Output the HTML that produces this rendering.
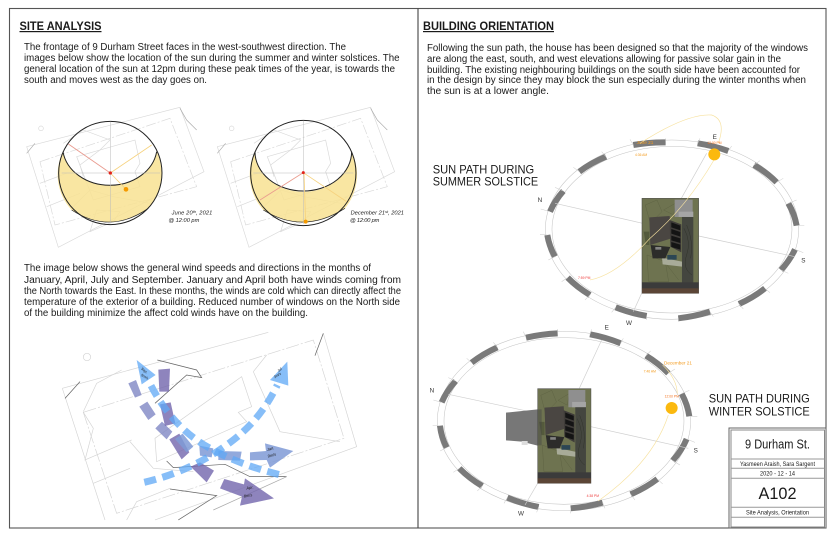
<!DOCTYPE html>
<html><head><meta charset="utf-8"><style>
html,body{margin:0;padding:0;background:#fff;width:836px;height:539px;overflow:hidden}
svg{display:block;filter:blur(.35px)}
text{font-family:"Liberation Sans",sans-serif;fill:#1a1a1a}
.b{font-size:9.9px}
</style></head><body>
<svg width="836" height="539" viewBox="0 0 836 539" xmlns="http://www.w3.org/2000/svg" xmlns:xlink="http://www.w3.org/1999/xlink">
<defs>
<g id="site" fill="none" stroke="#d9d9d9" stroke-width="2">
<path d="M80 140L540 22L612 215L175 442Z"/>
<path d="M120 185L510 55L590 260L165 375Z" stroke-dasharray="30 6 6 6"/>
<path d="M190 130L250 90L330 120L300 150L240 195L250 230M220 320L270 270L340 290L450 310M270 395L290 330L360 335L340 365Z"/>
<path d="M230 170L405 120L420 190L405 215L420 260L280 300Z"/>
<path d="M120 250L200 220M140 320L240 280"/>
<path d="M540 25L560 60L590 90" stroke="#aaa"/>
<path d="M80 160L105 130" stroke="#aaa"/>
<circle cx="123" cy="85" r="7"/>
</g>
<g id="ringT" fill="none">
<ellipse cx="0" cy="0" rx="380" ry="269" stroke="#c4c4c4" stroke-width="1.6"/>
<ellipse cx="0" cy="0" rx="360" ry="250" stroke="#c4c4c4" stroke-width="1.6"/>
</g>
<g id="house">
<rect x="0" y="0" width="170" height="285" fill="#6e7350" stroke="#444" stroke-width="1.5"/>
<path d="M10 20L45 5L60 40L25 75ZM65 35L100 15L95 50ZM15 170L70 190L80 250L20 250ZM75 200L110 245" fill="none" stroke="#5a5f40" stroke-width="1.2"/>
<rect x="98" y="4" width="54" height="52" fill="#8f8f8f"/>
<rect x="110" y="40" width="44" height="16" fill="#a5a5a5"/>
<rect x="120" y="56" width="34" height="200" fill="#44463f"/>
<path d="M126 90Q148 130 134 170T150 230M134 80Q156 130 146 180" fill="none" stroke="#2c2e26" stroke-width="1.2"/>
<path d="M5 100H22V140H12Z" fill="#545a3c"/>
<path d="M60 178L120 190V205L62 198Z" fill="#a8ab99"/>
<path d="M22 57L83 53L88 120L25 140Z" fill="#4a4642"/>
<path d="M83 65L118 78V162L85 145Z" fill="#3f3c39"/>
<path d="M88 72L115 82V96L88 87ZM88 92L115 101V115L88 106ZM88 112L115 120V134L88 126ZM88 131L115 139V154L88 146Z" fill="#141414"/>
<path d="M26 140L85 146L70 180L32 180Z" fill="#2c2c2a"/>
<rect x="40" y="146" width="18" height="8" fill="#aaa" fill-opacity=".7"/>
<rect x="76" y="170" width="28" height="14" fill="#2c4654"/>
<rect x="0" y="252" width="170" height="20" fill="#3b3b3b"/>
<rect x="0" y="270" width="170" height="15" fill="#5b4536"/>
</g>
</defs>

<rect width="836" height="539" fill="#fff"/>
<rect x="9.5" y="8.5" width="816.5" height="519.5" fill="none" stroke="#555" stroke-width="1.1"/>
<line x1="418" y1="8.5" x2="418" y2="528" stroke="#444" stroke-width="1.1"/>

<text x="19.5" y="30" font-size="12" font-weight="bold" text-decoration="underline" textLength="82" lengthAdjust="spacingAndGlyphs">SITE ANALYSIS</text>
<text x="423" y="30" font-size="12" font-weight="bold" text-decoration="underline" textLength="131" lengthAdjust="spacingAndGlyphs">BUILDING ORIENTATION</text>

<g class="b">
<text x="24" y="50" textLength="322" lengthAdjust="spacingAndGlyphs">The frontage of 9 Durham Street faces in the west-southwest direction. The</text>
<text x="24" y="61" textLength="375.5" lengthAdjust="spacingAndGlyphs">images below show the location of the sun during the summer and winter solstices. The</text>
<text x="24" y="72" textLength="371" lengthAdjust="spacingAndGlyphs">general location of the sun at 12pm during these peak times of the year, is towards the</text>
<text x="24" y="83" textLength="183" lengthAdjust="spacingAndGlyphs">south and moves west as the day goes on.</text>
<text x="24" y="271" textLength="347" lengthAdjust="spacingAndGlyphs">The image below shows the general wind speeds and directions in the months of</text>
<text x="24" y="283" textLength="377" lengthAdjust="spacingAndGlyphs">January, April, July and September. January and April both have winds coming from</text>
<text x="24" y="294" textLength="377" lengthAdjust="spacingAndGlyphs">the North towards the East. In these months, the winds are cold which can directly affect the</text>
<text x="24" y="305" textLength="376" lengthAdjust="spacingAndGlyphs">temperature of the exterior of a building. Reduced number of windows on the North side</text>
<text x="24" y="316" textLength="284" lengthAdjust="spacingAndGlyphs">of the building minimize the affect cold winds have on the building.</text>
<text x="427" y="51" textLength="381" lengthAdjust="spacingAndGlyphs">Following the sun path, the house has been designed so that the majority of the windows</text>
<text x="427" y="62" textLength="354" lengthAdjust="spacingAndGlyphs">are along the east, south, and west elevations allowing for passive solar gain in the</text>
<text x="427" y="73" textLength="373" lengthAdjust="spacingAndGlyphs">building. The existing neighbouring buildings on the south side have been accounted for</text>
<text x="427" y="83" textLength="379" lengthAdjust="spacingAndGlyphs">in the design by  since they may block the sun especially during the winter months when</text>
<text x="427" y="94" textLength="122" lengthAdjust="spacingAndGlyphs">the sun is at a lower angle.</text>
</g>

<!-- solstice spheres -->
<g transform="translate(0,100) scale(.3333)">
<use xlink:href="#site"/>
<path d="M189 155A142 118 0 0 0 470 155A155 155 0 0 1 445 325Q330 405 215 330A155 155 0 0 1 189 155Z" fill="#f8e292" fill-opacity=".85"/>
<circle cx="331" cy="219" r="155" fill="none" stroke="#222" stroke-width="3"/>
<path d="M189 155A142 118 0 0 0 470 155" fill="none" stroke="#222" stroke-width="3"/>
<path d="M215 330Q330 405 445 325" fill="none" stroke="#222" stroke-width="2"/>
<path d="M331 65V370M185 219H480" stroke="#bbb" stroke-width="1.5" fill="none"/>
<path d="M331 219L205 132" stroke="#e99a8e" stroke-width="2.5"/>
<path d="M331 219L455 135M331 219L378 268" stroke="#f6d27e" stroke-width="2.5"/>
<circle cx="331" cy="219" r="5" fill="#e2231a"/>
<circle cx="378" cy="268" r="7" fill="#f59a00"/>
<text x="515" y="343" font-size="17" style="font-style:italic" textLength="122">June 20ᵗʰ, 2021</text>
<text x="505" y="366" font-size="17" style="font-style:italic" textLength="93">@ 12:00 pm</text>
</g>
<g transform="translate(0,100) scale(.3333)">
<use xlink:href="#site" x="572"/>
<path d="M765 155A142 118 0 0 0 1055 155A158 158 0 0 1 1035 325Q910 405 790 330A158 158 0 0 1 765 155Z" fill="#f8e292" fill-opacity=".85"/>
<circle cx="910" cy="219" r="158" fill="none" stroke="#222" stroke-width="3"/>
<path d="M765 155A145 118 0 0 0 1055 155" fill="none" stroke="#222" stroke-width="3"/>
<path d="M790 330Q910 405 1035 325" fill="none" stroke="#222" stroke-width="2"/>
<path d="M910 62V372M760 219H1060" stroke="#bbb" stroke-width="1.5" fill="none"/>
<path d="M910 218L780 300" stroke="#ea9c8e" stroke-width="2.5"/>
<path d="M910 218L1040 305M912 218L917 365" stroke="#f6d27e" stroke-width="2.5"/>
<circle cx="910" cy="218" r="4.5" fill="#e2231a"/>
<circle cx="917" cy="365" r="6" fill="#f59a00"/>
<text x="1052" y="343" font-size="17" style="font-style:italic" textLength="160">December 21ˢᵗ, 2021</text>
<text x="1050" y="366" font-size="17" style="font-style:italic" textLength="88">@ 12:00 pm</text>
</g>

<!-- wind -->
<g transform="translate(40,325) scale(.3333)">
<g fill="none" stroke="#d4d4d4" stroke-width="2">
<path d="M67 190L685 22M67 190L195 585M850 25L950 365L345 585"/>
<path d="M130 262L820 45L912 340L230 565Z" stroke-dasharray="40 6 6 6"/>
<path d="M130 262L160 310L135 405L275 345M160 475L270 430M130 260L170 175L245 135"/>
<path d="M345 340L605 155L635 245L595 262L620 290L350 410Z"/>
<path d="M640 140L680 90M640 140L720 320L900 350"/>
<path d="M260 585L290 530L390 490M270 350L340 430L460 440"/>
<circle cx="141" cy="96" r="11"/>
</g>
<g fill="none" stroke="#666" stroke-width="2.2">
<path d="M352 105L470 135L485 158L440 150L345 235M75 220L120 170M380 408L400 428L555 418L630 455L740 455"/>
<path d="M390 492L530 512L415 585M825 92L850 25"/>
<path d="M520 555L740 455" stroke="#aaa"/>
</g>
<g fill="#7f87c4" fill-opacity=".8">
<path d="M265 175L288 165L305 210L285 218Z"/>
<path d="M298 245L322 230L347 268L325 285Z"/>
<path d="M346 310L366 290L397 320L380 343Z"/>
</g>
<g fill="#7265ad" fill-opacity=".8">
<path d="M355 134L390 131L387 200L358 200Z"/>
<path d="M360 238L392 232L406 295L375 303Z"/>
<path d="M388 343L418 326L448 382L425 403Z"/>
<path d="M452 425L480 412L522 437L500 472Z"/>
<path d="M540 490L553 462L612 478L615 460L702 520L600 542L606 515Z"/>
</g>
<g fill="#7f9ad6" fill-opacity=".85">
<path d="M405 342L428 326L460 365L440 382Z"/>
<path d="M478 362L520 370L515 397L480 392Z"/>
<path d="M535 378L605 380L600 407L535 405Z"/>
<path d="M630 382L678 378L675 355L760 378L690 428L680 405L630 406Z"/>
</g>
<g fill="none" stroke="#5fa8f5" stroke-opacity=".75" stroke-width="21" stroke-dasharray="36 20">
<path d="M333 182Q400 310 510 370Q600 420 722 450"/>
<path d="M313 472Q450 440 560 360Q660 290 712 180"/>
</g>
<g fill="#5fa8f5" fill-opacity=".75">
<path d="M290 105L347 150L305 178Z"/>
<path d="M742 110L690 165L745 182Z"/>
</g>
<g font-size="12" fill="#222" style="font-style:italic">
<text x="302" y="132" font-size="11" transform="rotate(40 302 132)">Sep.</text>
<text x="302" y="152" font-size="11" transform="rotate(30 302 152)">5m/s</text>
<text x="716" y="142" font-size="11" transform="rotate(-40 716 142)">Jul</text>
<text x="704" y="160" font-size="11" transform="rotate(-30 704 160)">3m/s</text>
<text x="682" y="378" font-size="12" transform="rotate(-15 682 378)">Jan.</text>
<text x="684" y="398" font-size="12" transform="rotate(-15 684 398)">9m/s</text>
<text x="620" y="494" font-size="12" transform="rotate(-10 620 494)">Apr.</text>
<text x="612" y="518" font-size="12" transform="rotate(-10 612 518)">8m/s</text>
</g>
</g>

<!-- top sun path -->
<g transform="translate(420,110) scale(.3333)">
<use xlink:href="#ringT" transform="translate(756,359)"/>
<g fill="none" stroke="#7a7a7a" stroke-width="18">
<path d="M640 105A370 259 0 0 1 737 97M478 185A370 259 0 0 1 558 140M390 305A370 259 0 0 1 430 243"/>
<path d="M382 375A370 259 0 0 0 405 440M443 503A370 259 0 0 0 510 555M587 592A370 259 0 0 0 680 618"/>
<path d="M775 625A370 259 0 0 0 870 605M957 582A370 259 0 0 0 1035 535M1083 480A370 259 0 0 0 1125 418"/>
<path d="M1130 347A370 259 0 0 0 1105 280M1070 217A370 259 0 0 0 1002 165M925 123A370 259 0 0 0 833 100"/>
</g>
<path d="M405 280L668 340M836 378L1125 440M860 130L770 290M665 550L640 605" stroke="#cfcfcf" stroke-width="2" fill="none"/>
<path d="M640 105L630 88M737 97V85M558 140L545 125M478 185L460 172M430 243L405 232M390 305L362 297M382 375L360 373M405 440L385 450M443 503L425 515M510 555L495 570M587 592L575 607M680 618V630M775 625V635M870 605L880 620M957 582L970 597M1035 535L1050 548M1083 480L1105 490M1125 418L1150 428M1130 347H1153M1105 280L1130 270M1070 217L1090 205M1002 165L1020 152M925 123L935 108M833 100L840 85" stroke="#cfcfcf" stroke-width="1.6" fill="none"/>
<use xlink:href="#house" transform="translate(666,265)"/>
<path d="M660 100Q800 10 875 15Q920 30 895 100M882 150Q800 290 690 385Q590 495 510 510" fill="none" stroke="#f7e2a0" stroke-width="2"/>
<circle cx="883" cy="133" r="18" fill="#fbb90f"/>
<text x="878" y="87" font-size="19" style="fill:#333">E</text>
<text x="353" y="276" font-size="19" style="fill:#333">N</text>
<text x="1144" y="458" font-size="19" style="fill:#333">S</text>
<text x="650" y="102" font-size="14" textLength="50" style="fill:#f39a1c">June 21</text>
<text x="645" y="138" font-size="10" style="fill:#f39a1c">4:36 AM</text>
<text x="862" y="102" font-size="10" style="fill:#f3711c">12:00 PM</text>
<text x="474" y="507" font-size="10" style="fill:#ee3b3b">7:59 PM</text>
</g>
<text x="626" y="325" style="font-size:6.3px;fill:#333">W</text>

<text x="432.7" y="173.3" font-size="11.8" textLength="101.5" lengthAdjust="spacingAndGlyphs">SUN PATH DURING</text>
<text x="432.7" y="185.3" font-size="11.8" textLength="105.5" lengthAdjust="spacingAndGlyphs">SUMMER SOLSTICE</text>
<text x="708.7" y="402.7" font-size="11.8" textLength="101" lengthAdjust="spacingAndGlyphs">SUN PATH DURING</text>
<text x="708.7" y="415.7" font-size="11.8" textLength="101" lengthAdjust="spacingAndGlyphs">WINTER SOLSTICE</text>

<!-- bottom sun path -->
<g transform="translate(420,315) scale(.3333)">
<use xlink:href="#ringT" transform="translate(432,318)"/>
<g fill="none" stroke="#7a7a7a" stroke-width="18">
<path d="M318 68A370 259 0 0 1 413 55M155 143A370 259 0 0 1 232 97M65 262A370 259 0 0 1 107 198"/>
<path d="M60 332A370 259 0 0 0 80 398M118 460A370 259 0 0 0 187 513M262 548A370 259 0 0 0 356 576"/>
<path d="M452 580A370 259 0 0 0 548 563M632 538A370 259 0 0 0 712 492M758 437A370 259 0 0 0 800 372"/>
<path d="M808 304A370 259 0 0 0 785 236M745 175A370 259 0 0 0 678 122M602 85A370 259 0 0 0 510 58"/>
</g>
<path d="M85 238L353 295M513 335L805 400M545 75L478 220M353 505L315 570" stroke="#cfcfcf" stroke-width="2" fill="none"/>
<path d="M318 68L310 50M413 55V42M232 97L220 82M155 143L140 130M107 198L85 188M65 262L40 255M60 332L38 332M80 398L60 408M118 460L100 472M187 513L172 528M262 548L252 565M356 576L350 592M452 580V595M548 563L555 580M632 538L645 555M712 492L728 507M758 437L780 450M800 372L825 382M808 304H832M785 236L808 226M745 175L765 162M678 122L692 108M602 85L610 70M510 58L515 43" stroke="#cfcfcf" stroke-width="1.6" fill="none"/>
<path d="M258 293L353 283V392L305 380L258 376Z" fill="#777"/>
<rect x="305" y="378" width="18" height="12" fill="#ddd"/>
<g transform="translate(353,221) scale(.941,.996)"><use xlink:href="#house"/></g>
<rect x="353" y="283" width="12" height="108" fill="#444" fill-opacity=".45"/>
<path d="M728 150Q770 190 772 235M745 300Q700 440 535 558" fill="none" stroke="#f7e2a0" stroke-width="2"/>
<circle cx="755" cy="279" r="18" fill="#fbb90f"/>
<text x="554" y="44" font-size="19" style="fill:#333">E</text>
<text x="29" y="232" font-size="19" style="fill:#333">N</text>
<text x="821" y="413" font-size="19" style="fill:#333">S</text>
<text x="294" y="601" font-size="19" style="fill:#333">W</text>
<text x="732" y="149" font-size="14" textLength="84" style="fill:#f39a1c">December 21</text>
<text x="671" y="172" font-size="10" style="fill:#f39a1c">7:46 AM</text>
<text x="734" y="248" font-size="10" style="fill:#f3711c">12:00 PM</text>
<text x="500" y="546" font-size="10" style="fill:#ee3b3b">4:38 PM</text>
</g>

<!-- title block -->
<rect x="729" y="428" width="97" height="100" fill="#fff" stroke="#666" stroke-width="1"/>
<rect x="731" y="430" width="93.5" height="97" fill="none" stroke="#888" stroke-width="1"/>
<path d="M731 459H824.5M731 468.3H824.5M731 478.3H824.5M731 507.3H824.5M731 517.3H824.5" stroke="#999" stroke-width="1" fill="none"/>
<text x="745" y="448.5" font-size="12.5" textLength="65" lengthAdjust="spacingAndGlyphs">9 Durham St.</text>
<text x="740" y="466" font-size="6" textLength="75" lengthAdjust="spacingAndGlyphs">Yasmeen Araish, Sara Sargent</text>
<text x="760" y="475.5" font-size="6" textLength="35" lengthAdjust="spacingAndGlyphs">2020 - 12 - 14</text>
<text x="758.5" y="499" font-size="16.5" textLength="38" lengthAdjust="spacingAndGlyphs">A102</text>
<text x="746" y="514.5" font-size="6" textLength="63" lengthAdjust="spacingAndGlyphs">Site Analysis, Orientation</text>
</svg>
</body></html>
